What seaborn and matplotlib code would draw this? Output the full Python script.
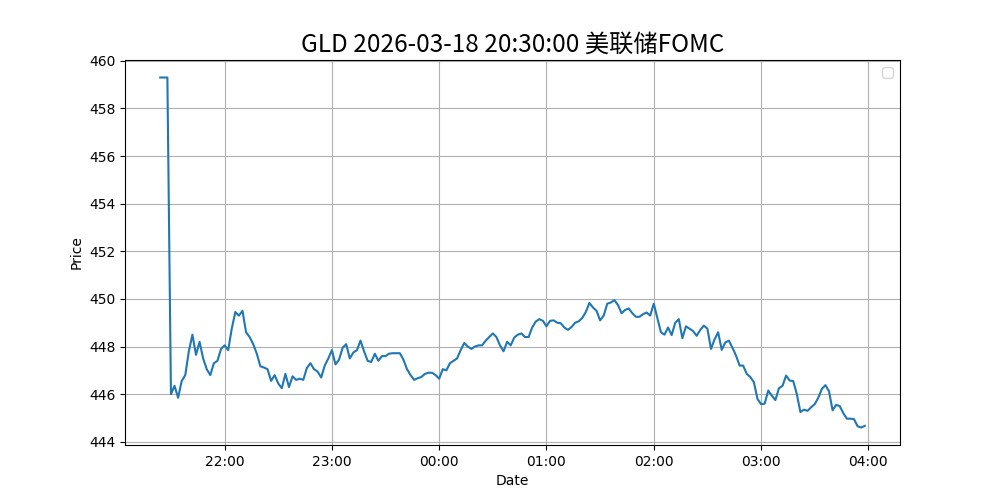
import numpy as np, pandas as pd, matplotlib
matplotlib.use("Agg")
import matplotlib.pyplot as plt, matplotlib.dates as mdates
import seaborn as sns

# GLD price around the FOMC release, 2-minute samples
start_time = "2026-03-18 21:24"
step = "2min"
prices = [
    459.3, 459.3, 459.3, 446.0, 446.35, 445.85, 446.55, 446.8, 447.8, 448.5,
    447.65, 448.2, 447.5, 447.05, 446.8, 447.3, 447.4, 447.9, 448.05, 447.85,
    448.75, 449.45, 449.3, 449.5, 448.6, 448.4, 448.1, 447.7, 447.17, 447.12,
    447.05, 446.56, 446.8, 446.45, 446.25, 446.85, 446.3, 446.75, 446.6, 446.65,
    446.6, 447.1, 447.3, 447.05, 446.95, 446.7, 447.2, 447.5, 447.85, 447.25,
    447.45, 447.95, 448.1, 447.5, 447.75, 447.85, 448.25, 447.8, 447.4, 447.35,
    447.7, 447.4, 447.6, 447.6, 447.7, 447.72, 447.72, 447.72, 447.45, 447.05,
    446.8, 446.6, 446.67, 446.72, 446.85, 446.9, 446.9, 446.8, 446.65, 447.05,
    447.0, 447.3, 447.4, 447.5, 447.85, 448.15, 448.0, 447.9, 448.0, 448.05,
    448.05, 448.25, 448.4, 448.55, 448.4, 448.05, 447.8, 448.2, 448.05, 448.38,
    448.5, 448.55, 448.4, 448.4, 448.8, 449.05, 449.15, 449.08, 448.85, 449.08,
    449.1, 449.0, 448.98, 448.8, 448.7, 448.82, 449.0, 449.06, 449.2, 449.45,
    449.83, 449.64, 449.5, 449.1, 449.3, 449.8, 449.85, 449.95, 449.74, 449.4,
    449.54, 449.6, 449.4, 449.25, 449.25, 449.36, 449.43, 449.3, 449.8, 449.2,
    448.6, 448.5, 448.8, 448.48, 449.0, 449.15, 448.35, 448.85, 448.75, 448.65,
    448.45, 448.7, 448.88, 448.75, 447.9, 448.3, 448.6, 447.86, 448.17, 448.25,
    447.95, 447.62, 447.2, 447.2, 446.85, 446.72, 446.5, 445.8, 445.58, 445.6,
    446.15, 445.94, 445.75, 446.25, 446.35, 446.78, 446.57, 446.55, 446.0, 445.25,
    445.35, 445.3, 445.45, 445.58, 445.85, 446.22, 446.38, 446.12, 445.32, 445.55,
    445.5, 445.2, 444.97, 444.97, 444.95, 444.65, 444.6, 444.67,
]
title = "GLD 2026-03-18 20:30:00 美联储FOMC"

dates = pd.date_range(start_time, periods=len(prices), freq=step)
df = pd.DataFrame({"Date": dates, "Price": prices})

fig, ax = plt.subplots(figsize=(10, 5), dpi=100)
sns.lineplot(data=df, x="Date", y="Price", ax=ax, color="#1f77b4", linewidth=1.5)
ax.xaxis.set_major_locator(mdates.HourLocator())
ax.xaxis.set_major_formatter(mdates.DateFormatter("%H:%M"))
ax.grid(True)
ax.legend(handles=[])
ax.set_xlabel("Date"); ax.set_ylabel("Price")
ax.set_title(title, fontsize=17.5, family=["Noto Sans CJK SC", "DejaVu Sans"])
plt.savefig("out.png", dpi=100)
